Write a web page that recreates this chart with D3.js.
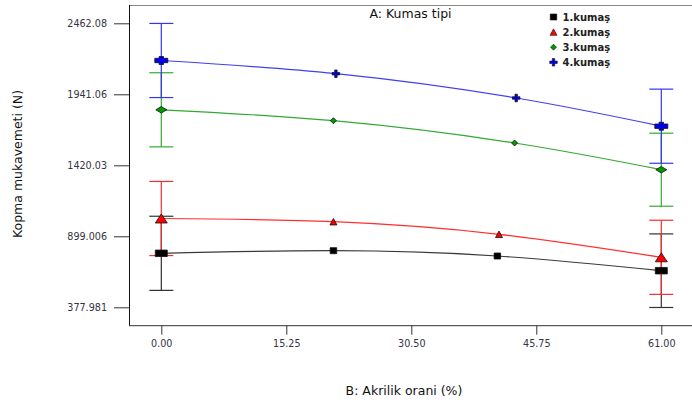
<!DOCTYPE html>
<html><head><meta charset="utf-8">
<script src="https://cdn.jsdelivr.net/npm/d3@7"></script>
<style>body{margin:0;background:#fff}svg{display:block}text{font-family:"DejaVu Sans",sans-serif}</style>
</head><body>
<svg id="c" width="692" height="403"></svg>
<script>
// ---- data ----
const seriesNames = ["1.kumaş", "2.kumaş", "3.kumaş", "4.kumaş"];
const s1x = [0, 21, 41, 61];
const s1y = [774.2, 793.4, 754.4, 646.6];
const s2x = [0, 21, 41.2, 61];
const s2y = [1029.6, 1006.1, 913.7, 744.9];
const s3x = [0, 21, 43.1, 61];
const s3y = [1827.3, 1747.3, 1583.7, 1387.7];
const s4x = [0, 21.3, 43.3, 61];
const s4y = [2189.1, 2092.2, 1913.9, 1707.0];
// error half-widths at the design points (x=0, x=61)
const errLow = [272, 272, 272, 272];
const errHigh = [270, 272, 268, 272];
const yTicks = [377.981, 899.006, 1420.03, 1941.06, 2462.08];
const yTickLabels = ["377.981", "899.006", "1420.03", "1941.06", "2462.08"];
const xTicks = [0, 15.25, 30.5, 45.75, 61];
const xTickLabels = ["0.00", "15.25", "30.50", "45.75", "61.00"];
const titleText = "A: Kumas tipi";
const xTitle = "B: Akrilik orani (%)";
const yTitle = "Kopma mukavemeti (N)";

// ---- styles ----
const lineColors = ["#3a3a3a", "#ff3030", "#33a833", "#4040f0"];
const barColors = ["#333333", "#ee3030", "#33aa33", "#3535ee"];
const fillColors = ["#000000", "#ff0000", "#009900", "#0000ee"];

const svg = d3.select("#c");
const L = 129, T = 5, B = 325.7, R = 700;
const x = d3.scaleLinear().domain([0, 61]).range([161.3, 661.3]);
const y = d3.scaleLinear().domain([377.981, 2462.08]).range([307.3, 23.3]);

// frame
svg.append("line").attr("x1", L).attr("x2", R).attr("y1", T + 0.5).attr("y2", T + 0.5).attr("stroke", "#888").attr("stroke-width", 1.2);
svg.append("line").attr("x1", L + 0.5).attr("x2", L + 0.5).attr("y1", T).attr("y2", B).attr("stroke", "#111");
svg.append("line").attr("x1", L).attr("x2", R).attr("y1", B).attr("y2", B).attr("stroke", "#333");

// y axis
const ya = d3.axisLeft(y).tickValues(yTicks).tickSize(15).tickPadding(7)
  .tickFormat((d, i) => yTickLabels[i]);
const yg = svg.append("g").attr("transform", `translate(${L},0)`).call(ya);
yg.select(".domain").remove();
yg.selectAll(".tick line").attr("stroke", "#333");
yg.selectAll("text").attr("font-size", 9.6).attr("fill", "#333344").attr("font-family", "DejaVu Sans");

// x axis
const xa = d3.axisBottom(x).tickValues(xTicks).tickSize(9).tickPadding(5)
  .tickFormat((d, i) => xTickLabels[i]);
const xg = svg.append("g").attr("transform", `translate(0,${B})`).call(xa);
xg.select(".domain").remove();
xg.selectAll(".tick line").attr("stroke", "#333");
xg.selectAll("text").attr("font-size", 9.6).attr("fill", "#333344").attr("font-family", "DejaVu Sans");

// titles
svg.append("text").attr("x", 410.5).attr("y", 18).attr("text-anchor", "middle").attr("font-size", 12.5).attr("fill", "#111").text(titleText);
svg.append("text").attr("x", 404).attr("y", 394.5).attr("text-anchor", "middle").attr("font-size", 12.5).attr("fill", "#111").text(xTitle);
svg.append("text").attr("transform", "translate(22,164) rotate(-90)").attr("text-anchor", "middle").attr("font-size", 12.5).attr("fill", "#111").text(yTitle);

const allX = [s1x, s2x, s3x, s4x];
const allY = [s1y, s2y, s3y, s4y];

// marker path generators (centered at 0,0)
function markerPath(k, big) {
  if (k === 0) { const w = big ? 12 : 6.5, h = big ? 6.5 : 6; return `M${-w/2},${-h/2}h${w}v${h}h${-w}Z`; }
  if (k === 1) { const w = big ? 12 : 7, h = big ? 9 : 6.5; return `M0,${-h/2}L${w/2},${h/2}L${-w/2},${h/2}Z`; }
  if (k === 2) { const w = big ? 11 : 6, h = big ? 6.5 : 6; return `M${-w/2},0L0,${-h/2}L${w/2},0L0,${h/2}Z`; }
  const w = big ? 13 : 7.5, h = big ? 8 : 7.5, a = big ? 2.2 : 1.2, b = big ? 2.2 : 1.2;
  return `M${-w/2},${-b}H${-a}V${-h/2}H${a}V${-b}H${w/2}V${b}H${a}V${h/2}H${-a}V${b}H${-w/2}Z`;
}

const line = d3.line().x(d => x(d[0])).y(d => y(d[1])).curve(d3.curveNatural);

[0, 1, 2, 3].forEach(k => {
  const pts = allX[k].map((v, i) => [v, allY[k][i]]);
  // error bars at the design points
  [0, pts.length - 1].forEach((idx, j) => {
    const [px, py] = pts[idx];
    const e = j === 0 ? errLow[k] : errHigh[k];
    const g = svg.append("g").attr("stroke", barColors[k]).attr("stroke-width", 1.2);
    g.append("line").attr("x1", x(px)).attr("x2", x(px)).attr("y1", y(py + e)).attr("y2", y(py - e));
    g.append("line").attr("x1", x(px) - 12).attr("x2", x(px) + 12).attr("y1", y(py + e)).attr("y2", y(py + e));
    g.append("line").attr("x1", x(px) - 12).attr("x2", x(px) + 12).attr("y1", y(py - e)).attr("y2", y(py - e));
  });
  svg.append("path").attr("d", line(pts)).attr("fill", "none").attr("stroke", lineColors[k]).attr("stroke-width", 1.2);
});

[0, 1, 2, 3].forEach(k => {
  allX[k].forEach((v, i) => {
    const big = (v === 0 || v === 61);
    svg.append("path").attr("d", markerPath(k, big))
      .attr("transform", `translate(${x(v)},${y(allY[k][i])})`)
      .attr("fill", fillColors[k]).attr("stroke", "#111").attr("stroke-width", 0.8);
  });
});

// legend
seriesNames.forEach((n, k) => {
  const ly = 17 + k * 15.1;
  svg.append("path").attr("d", markerPath(k, false)).attr("transform", `translate(553.5,${ly})`)
    .attr("fill", fillColors[k]).attr("stroke", "#111").attr("stroke-width", 0.6);
  svg.append("text").attr("x", 562.5).attr("y", ly + 3.6).attr("font-size", 10).attr("font-weight", "bold").attr("fill", "#222").text(n);
});
</script>
</body></html>
